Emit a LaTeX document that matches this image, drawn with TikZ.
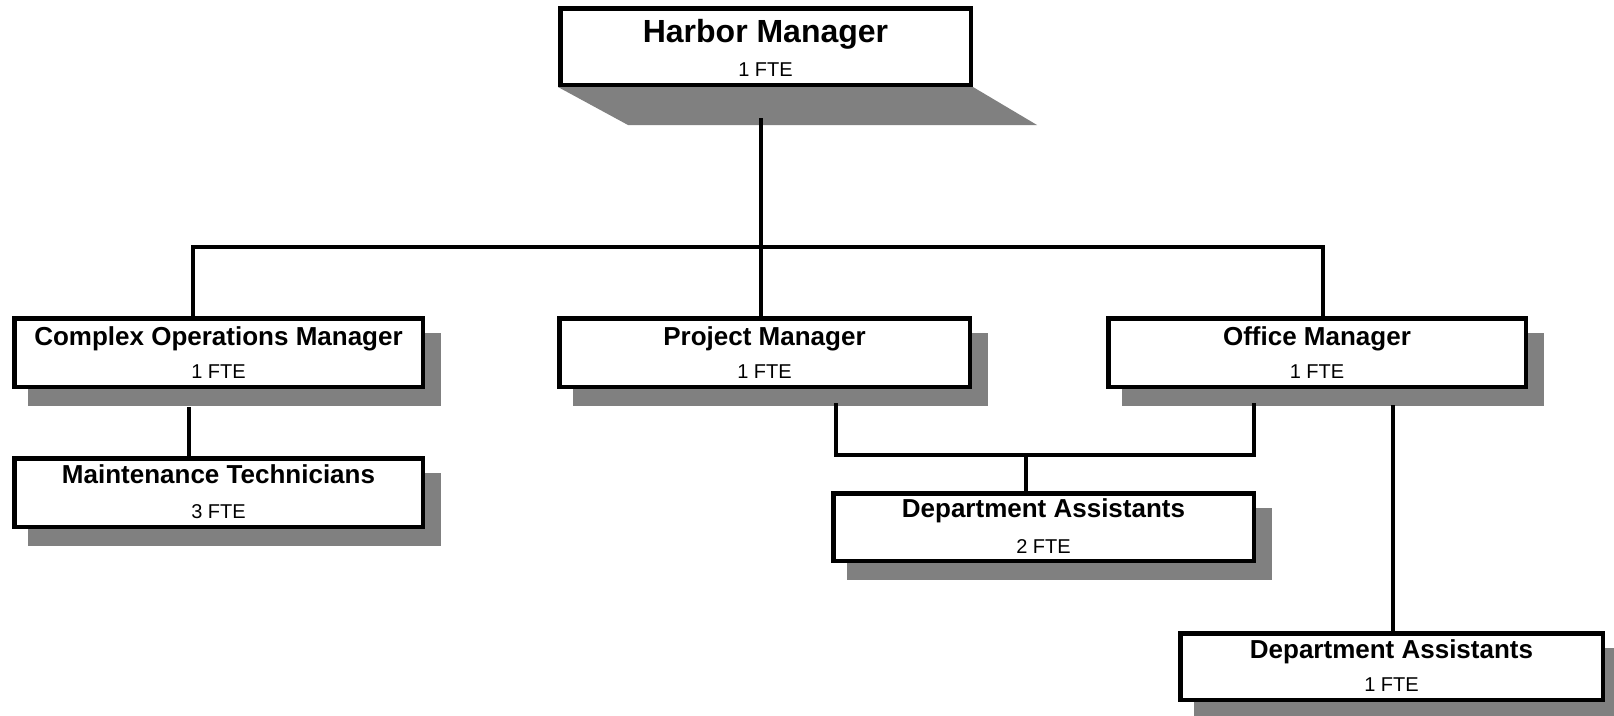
\documentclass[tikz,border=0pt]{standalone}
\usepackage{fontspec}
\setmainfont{Liberation Sans}
\usetikzlibrary{calc,backgrounds}
\definecolor{shade}{HTML}{808080}
\tikzset{
  box/.style={draw=black, line width=4.5pt, fill=white, rectangle, inner sep=0pt,
    minimum height=68.5pt, minimum width=#1},
  ttl/.style={font=\fontsize{26}{30}\selectfont\bfseries, inner sep=0pt, anchor=base},
  bigttl/.style={font=\fontsize{32}{36}\selectfont\bfseries, inner sep=0pt, anchor=base},
  fte/.style={font=\fontsize{20}{23}\selectfont, inner sep=0pt, anchor=base},
  conn/.style={draw=black, line width=4pt, line join=miter},
  thinconn/.style={draw=black, line width=3.2pt},
  shadowfill/.style={fill=shade},
}
\begin{document}
\begin{tikzpicture}[x=1pt,y=-1pt]
\clip (0,0) rectangle (1614,715);
\useasboundingbox (0,0) rectangle (1614,715);

% boxes
\node[box=410.5pt, minimum height=76.5pt] (hm) at (765.5,46.5) {};
\node[box=408.5pt] (com) at (218.5,352.5) {};
\node[box=410.5pt] (pm) at (764.5,352.5) {};
\node[box=417.5pt] (om) at (1317,352.5) {};
\node[box=408.5pt] (mt) at (218.5,492.5) {};
\node[box=420.5pt, minimum height=67.5pt] (da2) at (1043.5,527) {};
\node[box=422.5pt, minimum height=66.5pt] (da1) at (1391.5,666.5) {};

% shadows
\begin{pgfonlayer}{background}
  \fill[white] (0,0) rectangle (1614,715);
  \fill[shadowfill] (hm.south west) -- (hm.south east) -- ++(64,38) -- ($(hm.south west)+(70,38)$) -- cycle;
  \foreach \n in {com,pm,om,mt,da2,da1}{
    \fill[shadowfill] ([shift={(16,17)}]\n.north west) rectangle ([shift={(16,17)}]\n.south east);
  }
\end{pgfonlayer}

% texts
\node[bigttl] (hm-t) at ($(hm.north)+(0,36)$) {Harbor Manager};
\node[fte] (hm-f) at ($(hm.north)+(0,70)$) {1 FTE};
\node[ttl] (com-t) at ($(com.north)+(0,29)$) {Complex Operations Manager};
\node[fte] (com-f) at ($(com.north)+(0,62)$) {1 FTE};
\node[ttl] (pm-t) at ($(pm.north)+(0,29)$) {Project Manager};
\node[fte] (pm-f) at ($(pm.north)+(0,62)$) {1 FTE};
\node[ttl] (om-t) at ($(om.north)+(0,29)$) {Office Manager};
\node[fte] (om-f) at ($(om.north)+(0,62)$) {1 FTE};
\node[ttl] (mt-t) at ($(mt.north)+(0,27)$) {Maintenance Technicians};
\node[fte] (mt-f) at ($(mt.north)+(0,62)$) {3 FTE};
\node[ttl] (da2-t) at ($(da2.north)+(0,26)$) {Department Assistants};
\node[fte] (da2-f) at ($(da2.north)+(0,62)$) {2 FTE};
\node[ttl] (da1-t) at ($(da1.north)+(0,27)$) {Department Assistants};
\node[fte] (da1-f) at ($(da1.north)+(0,60)$) {1 FTE};

% connectors
\coordinate (trunk) at (761,118);
\coordinate (busL) at (193,247);
\coordinate (busR) at (1323,247);
\draw[conn] (trunk) -- (trunk |- pm.north);
\draw[conn] (com.north -| busL) -- (busL) -- (busR) -- (busR |- om.north);

\coordinate (cm) at (189,407);
\draw[conn] (cm) -- (cm |- mt.north);

\coordinate (pmd) at (836,403);
\coordinate (omd) at (1254,403);
\coordinate (jn) at (1026,455);
\draw[conn] (pmd) |- (jn) -| (omd);
\draw[conn] (jn) -- (jn |- da2.north);

\coordinate (omr) at (1393,405);
\draw[thinconn] (omr) -- (omr |- da1.north);
\end{tikzpicture}
\end{document}
